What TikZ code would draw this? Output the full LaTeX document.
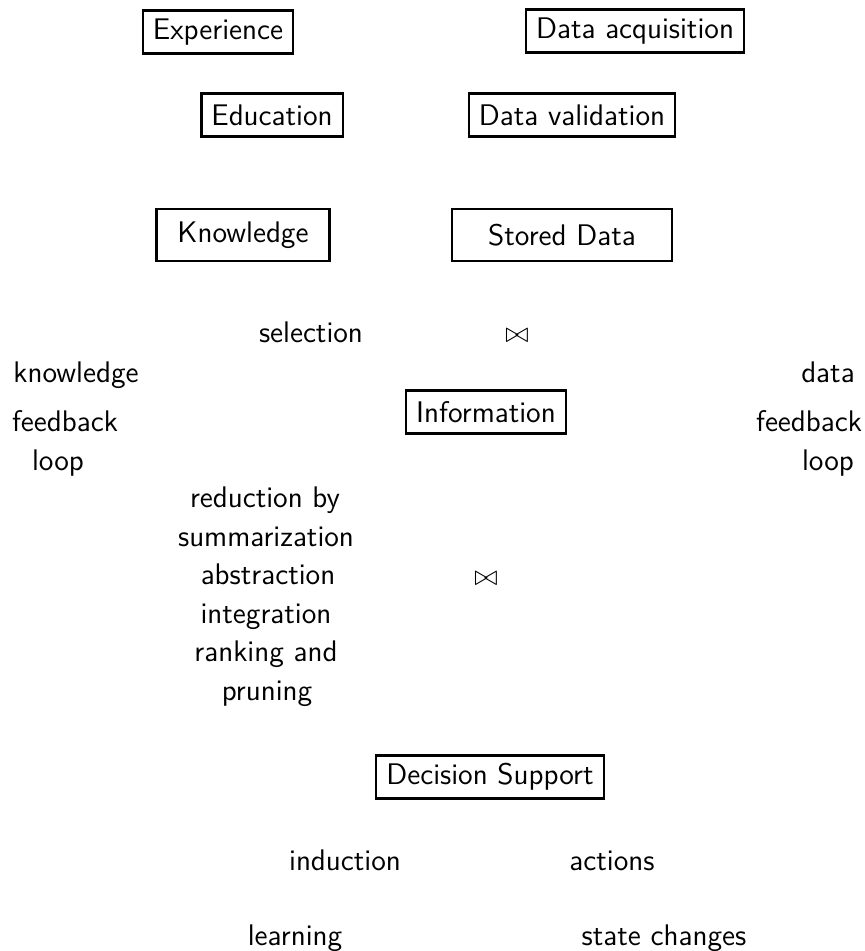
\documentclass[tikz,border=0pt]{standalone}
\usepackage{amsmath, amssymb}
\usepackage{tikz}
\usetikzlibrary{positioning}

\begin{document}
\begin{tikzpicture}[x=0.5pt, y=-0.5pt,
  every node/.style={font=\fontsize{14.9}{17}\selectfont\sffamily},
  box/.style={draw, line width=1.1pt, inner xsep=5pt, minimum height=21.5pt},
  wbox/.style={box, inner xsep=10.5pt},
  lbl/.style={inner sep=0pt, text height=0.98em, text depth=0.2em}]
\useasboundingbox (0,0) rectangle (864,951);
% boxes
\node[box] (exper) at (218,32) {Experience};
\node[box] (acq) at (635,31) {Data acquisition};
\node[box] (edu) at (272,115) {Education};
\node[box] (valid) at (572,115) {Data validation};
\node[wbox, minimum height=26pt] (know) at (243,235) {Knowledge};
\node[box, minimum width=110pt, minimum height=26pt] (stored) at (562,235) {Stored Data};
\node[box] (info) at (486,412) {Information};
\node[box] (dsup) at (490,777) {Decision Support};
% labels
\node[lbl] (sel) at (311,335) {selection};
\node[lbl] (join1) at (517,335) {$\bowtie$};
\node[lbl] (kfb1) at (76,375) {knowledge};
\node[lbl] (kfb2) at (65,424) {feedback};
\node[lbl] (kfb3) at (58,463) {loop};
\node[lbl] (dfb1) at (828,375) {data};
\node[lbl] (dfb2) at (809,424) {feedback};
\node[lbl] (dfb3) at (828,463) {loop};
\node[lbl] (red1) at (265,500) {reduction by};
\node[lbl] (red2) at (266,539) {summarization};
\node[lbl] (red3) at (268,577) {abstraction};
\node[lbl] (red4) at (266,616) {integration};
\node[lbl] (red5) at (266,654) {ranking and};
\node[lbl] (red6) at (267,693) {pruning};
\node[lbl] (join2) at (486,578) {$\bowtie$};
\node[lbl] (induc) at (345,863) {induction};
\node[lbl] (act) at (612,863) {actions};
\node[lbl] (learn) at (295,938) {learning};
\node[lbl] (state) at (664,938) {state changes};
\end{tikzpicture}
\end{document}
